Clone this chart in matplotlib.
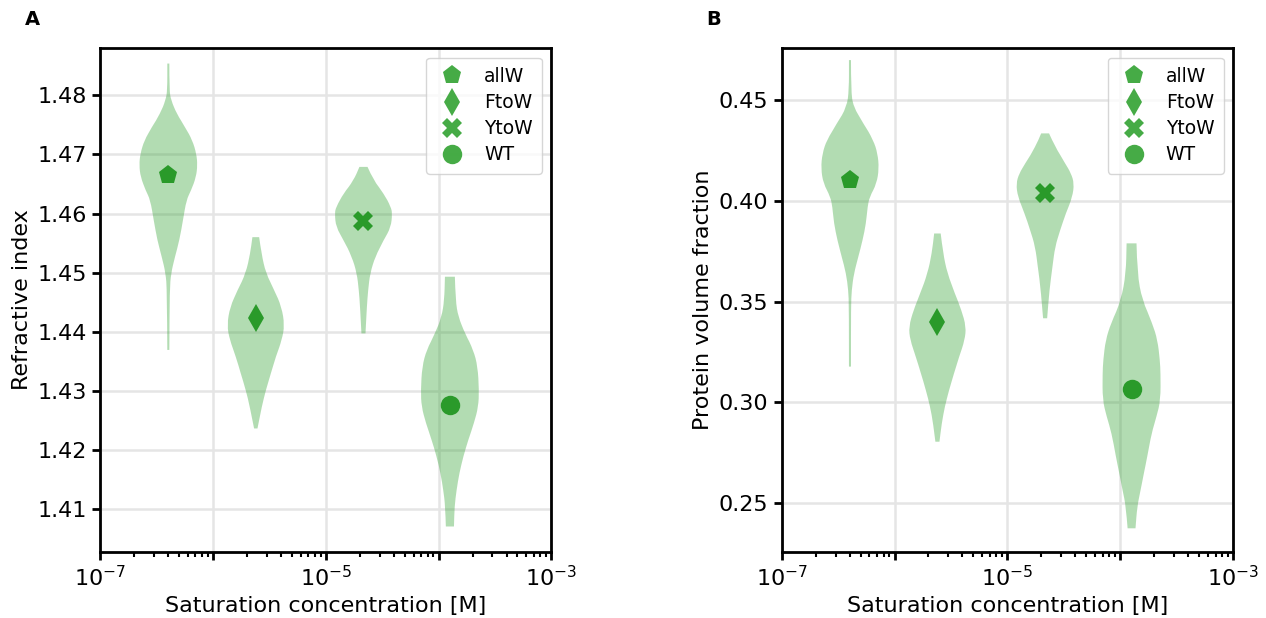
import numpy as np
import matplotlib
matplotlib.use("Agg")
import matplotlib.pyplot as plt
from matplotlib.path import Path
from matplotlib.patches import PathPatch
from matplotlib.ticker import LogLocator, FuncFormatter, NullFormatter

variants = ["allW", "FtoW", "YtoW", "WT"]
markers = ["p", "d", "X", "o"]
csat = [4.03e-7, 2.40e-6, 2.16e-5, 1.26e-4]  # saturation concentration [M]

# medians per variant
ri_median = [1.4665, 1.4423, 1.4587, 1.4275]
phi_median = [0.4106, 0.3400, 0.4037, 0.3064]

# violin outlines: y values and half-widths (in decades of c_sat)
ri_y = [
    [1.4369, 1.4470, 1.4499, 1.4527, 1.4555, 1.4589, 1.4623, 1.4639, 1.4662,
     1.4682, 1.4701, 1.4724, 1.4746, 1.4769, 1.4792, 1.4809, 1.4854],
    [1.4236, 1.4273, 1.4301, 1.4329, 1.4358, 1.4386, 1.4411, 1.4442, 1.4470,
     1.4499, 1.4532, 1.4560],
    [1.4397, 1.4442, 1.4470, 1.4499, 1.4527, 1.4555, 1.4577, 1.4600, 1.4611,
     1.4634, 1.4656, 1.4679],
    [1.4070, 1.4104, 1.4132, 1.4160, 1.4189, 1.4217, 1.4245, 1.4273, 1.4301,
     1.4341, 1.4369, 1.4397, 1.4425, 1.4453, 1.4493],
]
ri_hw = [
    [0.009, 0.012, 0.024, 0.059, 0.098, 0.130, 0.160, 0.201, 0.246,
     0.258, 0.249, 0.213, 0.148, 0.074, 0.024, 0.009, 0.009],
    [0.015, 0.053, 0.089, 0.133, 0.178, 0.231, 0.255, 0.228, 0.163,
     0.089, 0.050, 0.030],
    [0.018, 0.030, 0.041, 0.059, 0.104, 0.178, 0.243, 0.255, 0.243,
     0.178, 0.089, 0.036],
    [0.036, 0.041, 0.059, 0.083, 0.119, 0.163, 0.213, 0.252, 0.258,
     0.246, 0.207, 0.133, 0.074, 0.050, 0.044],
]
phi_y = [
    [0.3177, 0.3474, 0.3557, 0.3640, 0.3723, 0.3805, 0.3888, 0.3971, 0.4020,
     0.4086, 0.4161, 0.4235, 0.4302, 0.4384, 0.4467, 0.4550, 0.4699],
    [0.2804, 0.2895, 0.2978, 0.3061, 0.3144, 0.3226, 0.3309, 0.3375, 0.3458,
     0.3541, 0.3640, 0.3739, 0.3838],
    [0.3417, 0.3557, 0.3673, 0.3772, 0.3855, 0.3938, 0.4020, 0.4086, 0.4136,
     0.4186, 0.4268, 0.4335],
    [0.2374, 0.2482, 0.2564, 0.2647, 0.2730, 0.2846, 0.2929, 0.3011, 0.3144,
     0.3209, 0.3309, 0.3392, 0.3507, 0.3640, 0.3789],
]
phi_hw = [
    [0.009, 0.009, 0.015, 0.035, 0.074, 0.112, 0.142, 0.156, 0.174,
     0.236, 0.257, 0.245, 0.206, 0.118, 0.029, 0.009, 0.009],
    [0.018, 0.038, 0.065, 0.103, 0.147, 0.192, 0.242, 0.254, 0.212,
     0.153, 0.088, 0.050, 0.029],
    [0.018, 0.038, 0.065, 0.088, 0.133, 0.183, 0.242, 0.257, 0.230,
     0.177, 0.088, 0.035],
    [0.035, 0.050, 0.080, 0.109, 0.139, 0.177, 0.221, 0.257, 0.257,
     0.251, 0.230, 0.183, 0.094, 0.050, 0.044],
]

color = "#2ca02c"

plt.rcParams["font.family"] = "DejaVu Sans"
plt.rcParams["axes.linewidth"] = 2


def smooth_side(pts):
    # quadratic bezier through midpoints, keeping both end points
    verts = [pts[0]]
    codes = []
    n = len(pts)
    if n < 3:
        verts += list(pts[1:])
        codes += [Path.LINETO] * (n - 1)
        return verts, codes
    verts.append(0.5 * (pts[0] + pts[1]))
    codes.append(Path.LINETO)
    for i in range(1, n - 1):
        end = pts[i + 1] if i == n - 2 else 0.5 * (pts[i] + pts[i + 1])
        verts += [pts[i], end]
        codes += [Path.CURVE3, Path.CURVE3]
    return verts, codes


def violin_patch(c, y, hw):
    y = np.asarray(y)
    hw = np.asarray(hw)
    lc = np.log10(c)
    right = np.column_stack([10 ** (lc + hw), y])
    left = np.column_stack([10 ** (lc - hw), y])[::-1]
    rv, rc = smooth_side(right)
    lv, lcodes = smooth_side(left)
    verts = rv + lv + [rv[0]]
    codes = [Path.MOVETO] + rc + [Path.LINETO] + lcodes + [Path.CLOSEPOLY]
    return Path(np.array(verts), codes)


fig, axes = plt.subplots(1, 2, figsize=(12.66, 6.18), dpi=100)
fig.subplots_adjust(left=0.079, right=0.974, bottom=0.107, top=0.922, wspace=0.51)


def draw_panel(ax, ys, hws, medians, ylabel, letter, ylim, yticks):
    for c, y, hw, med, m, name in zip(csat, ys, hws, medians, markers, variants):
        ax.add_patch(PathPatch(violin_patch(c, y, hw), facecolor=color,
                               alpha=0.36, lw=0))
        ax.plot([c], [med], marker=m, ls="none", color="#2a9a2a",
                markersize=14, markeredgewidth=0, label=name)
    ax.set_xscale("log")
    ax.set_xlim(1e-7, 1e-3)
    ax.set_ylim(*ylim)
    ax.set_yticks(yticks)
    ax.xaxis.set_major_locator(LogLocator(base=10, numticks=10))
    ax.xaxis.set_minor_locator(LogLocator(base=10, subs=np.arange(2, 10), numticks=20))
    ax.xaxis.set_major_formatter(FuncFormatter(
        lambda v, p: r"$10^{%d}$" % round(np.log10(v)) if round(np.log10(v)) % 2 else ""))
    ax.xaxis.set_minor_formatter(NullFormatter())
    ax.grid(True, which="major", color="#e5e5e5", lw=1.8)
    ax.set_axisbelow(True)
    ax.tick_params(which="major", length=6, width=2, labelsize=16)
    ax.tick_params(which="minor", length=3.5, width=1.5)
    ax.set_xlabel("Saturation concentration [M]", fontsize=16)
    ax.set_ylabel(ylabel, fontsize=16)
    leg = ax.legend(loc="upper right", fontsize=13.5, handletextpad=0.8,
                    borderpad=0.5, labelspacing=0.38, handlelength=1.8)
    for h in leg.legend_handles:
        h.set_color(color)
        h.set_alpha(0.88)
    ax.text(-0.166, 1.057, letter, transform=ax.transAxes, fontsize=14,
            fontweight="bold", ha="left", va="center")


draw_panel(axes[0], ri_y, ri_hw, ri_median, "Refractive index", "A",
           (1.4027, 1.488), [1.41, 1.42, 1.43, 1.44, 1.45, 1.46, 1.47, 1.48])
draw_panel(axes[1], phi_y, phi_hw, phi_median, "Protein volume fraction", "B",
           (0.2257, 0.4758), [0.25, 0.30, 0.35, 0.40, 0.45])

fig.savefig("out.png", dpi=100)
